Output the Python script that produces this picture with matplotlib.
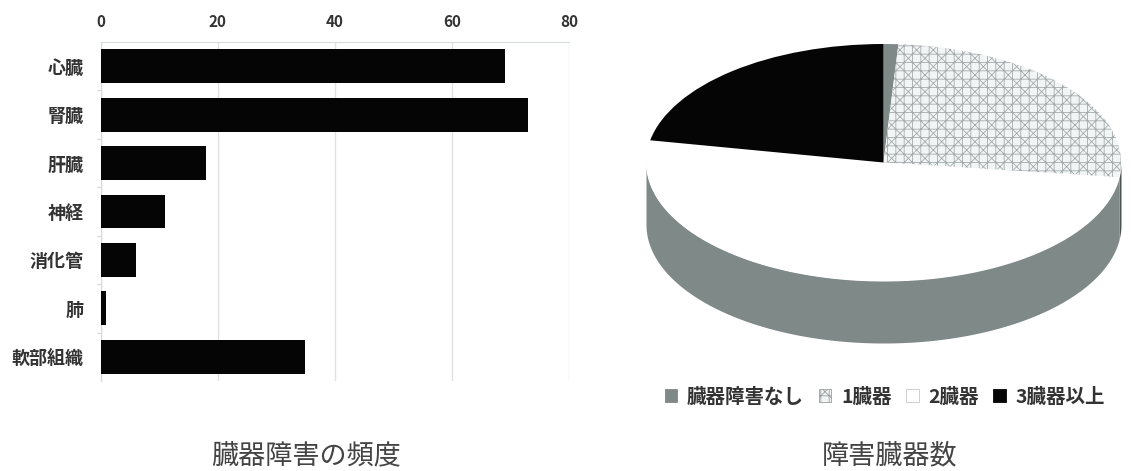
import matplotlib
matplotlib.use('Agg')
import matplotlib.pyplot as plt
from matplotlib.patches import Patch
import numpy as np

plt.rcParams['font.family'] = ['Noto Sans CJK JP', 'DejaVu Sans']
plt.rcParams['hatch.linewidth'] = 0.6
plt.rcParams['hatch.color'] = '#a4abaa'

organs = ['心臓', '腎臓', '肝臓', '神経', '消化管', '肺', '軟部組織']
organ_freq = [69, 73, 18, 11, 6, 1, 35]
freq_ticks = [0, 20, 40, 60, 80]

count_labels = ['臓器障害なし', '1臓器', '2臓器', '3臓器以上']
count_share = [1, 26, 51, 22]
count_colors = ['#7f8988', '#f2f5f5', '#ffffff', '#050505']
count_hatch = [None, '++xx', None, None]
wall_colors = ['#7f8988', '#4c5251', '#7f8988', '#050505']

W, H = 1131, 471
fig = plt.figure(figsize=(W / 100, H / 100), dpi=100)
text_color = '#333333'


def axes_px(x0, y0, x1, y1):
    return fig.add_axes([x0 / W, 1 - y1 / H, (x1 - x0) / W, (y1 - y0) / H])


# frequency bars
ax = axes_px(100.5, 42, 569, 381)
pos = np.arange(len(organs))
ax.barh(pos, organ_freq, height=0.7, color='#050505', zorder=3)
ax.set_xlim(0, 80)
ax.set_ylim(len(organs) - 0.5, -0.5)
ax.set_xticks(freq_ticks)
ax.set_yticks(pos, organs, fontweight='bold')
ax.set_yticks(pos[:-1] + 0.5, minor=True)
ax.xaxis.tick_top()
ax.grid(axis='x', color='#dfe2e2', lw=1, zorder=0)
ax.tick_params(axis='x', length=0, pad=9, labelsize=11, labelcolor=text_color)
ax.tick_params(axis='y', which='major', length=0, pad=12, labelsize=13, labelcolor=text_color)
ax.tick_params(axis='y', which='minor', length=3, color='#d8dbdb', width=1)
for label in ax.get_xticklabels():
    label.set_fontweight('bold')
for side in ['right', 'bottom']:
    ax.spines[side].set_visible(False)
for side in ['top', 'left']:
    ax.spines[side].set_color('#d8dbdb')

# tilted pie: unit circle squashed by the axes, wall hangs below it
ry = 118.5
depth = 62 / ry
top_y, bottom_y = 44, 343
pie_ax = axes_px(646, top_y, 1121, bottom_y)
wedges, _ = pie_ax.pie(count_share, colors=count_colors, startangle=90,
                       counterclock=False, radius=1,
                       wedgeprops={'linewidth': 0}, normalize=True)
for w, h in zip(wedges, count_hatch):
    w.set_zorder(3)
    if h:
        w.set_hatch(h)

# side wall of each slice, only the front half of the rim shows
edges = 90 - np.cumsum([0] + count_share) * 3.6
for i in range(len(count_share)):
    hi, lo = edges[i], edges[i + 1]
    lo2, hi2 = max(lo, -180), min(hi, 0)
    if lo2 >= hi2:
        continue
    th = np.radians(np.linspace(lo2, hi2, 200))
    pie_ax.fill_between(np.cos(th), np.sin(th) - depth, np.sin(th),
                        color=wall_colors[i], lw=0, zorder=2)
pie_ax.set_aspect('auto')
pie_ax.set_xlim(-1, 1)
pie_ax.set_ylim(-1 - depth, 1)
for w in wedges:
    w.set_clip_on(False)

handles = [Patch(facecolor=c, edgecolor=e, hatch=h, lw=0.6)
           for c, h, e in zip(count_colors, count_hatch,
                              ['#7f8988', '#9a9f9e', '#c4c8c8', '#050505'])]
fig.legend(handles, count_labels, ncol=4, frameon=False,
           labelcolor=text_color, loc='center', bbox_to_anchor=(885 / W, 1 - 397 / H),
           prop={'weight': 'bold', 'size': 14},
           handlelength=0.65, handleheight=0.65, handletextpad=0.5,
           columnspacing=0.75, borderpad=0)

# captions under each panel
fig.text(306 / W, 1 - 456 / H, '臓器障害の頻度', ha='center', va='center',
         fontsize=19.5, color='#444444')
fig.text(890 / W, 1 - 456 / H, '障害臓器数', ha='center', va='center',
         fontsize=19.5, color='#444444')

fig.savefig('out.png', dpi=100)
